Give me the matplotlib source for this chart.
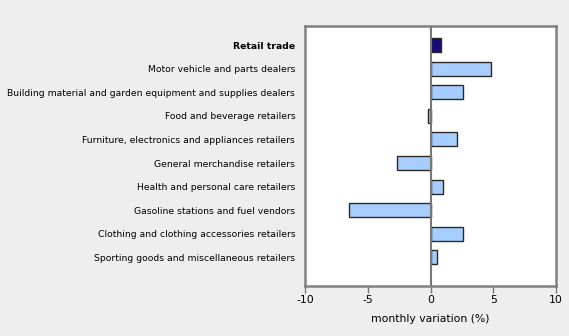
import matplotlib
matplotlib.use("Agg")
import matplotlib.pyplot as plt
import numpy as np

categories = [
    "Retail trade",
    "Motor vehicle and parts dealers",
    "Building material and garden equipment and supplies dealers",
    "Food and beverage retailers",
    "Furniture, electronics and appliances retailers",
    "General merchandise retailers",
    "Health and personal care retailers",
    "Gasoline stations and fuel vendors",
    "Clothing and clothing accessories retailers",
    "Sporting goods and miscellaneous retailers",
]
values = [0.8, 4.8, 2.6, -0.2, 2.1, -2.7, 1.0, -6.5, 2.6, 0.5]
xticks = [-10, -5, 0, 5, 10]
xlabel = "monthly variation (%)"

bg = "#EEEEEE"
fig = plt.figure(figsize=(5.69, 3.36), dpi=100, facecolor=bg)
ax = fig.add_axes([305/569, (336-285.7)/336, (556-305)/569, 260/336])
ax.set_facecolor("white")

y = np.arange(len(categories))
colors = ["#170B75"] + ["#A6CDFE"] * (len(categories) - 1)
ax.barh(y, values, height=0.6, color=colors, edgecolor="#2a2a2a", linewidth=1.0, zorder=3)

ax.axvline(0, color="#777777", linewidth=1.5, zorder=4)
ax.set_xlim(-10, 10)
ax.set_ylim(len(categories) - 1 + 1.2, -0.82)
ax.set_xticks(xticks)
ax.set_xticklabels([str(t) for t in xticks], fontsize=7.8)
ax.set_yticks(y)
ax.set_yticklabels(categories, fontsize=6.7)
for lbl in ax.get_yticklabels():
    if lbl.get_text() == "Retail trade":
        lbl.set_fontweight("bold")
ax.tick_params(axis="y", length=0, pad=7)
ax.tick_params(axis="x", length=5, width=1, color="#777777", pad=2, direction="out")
for s in ax.spines.values():
    s.set_color("#808080")
    s.set_linewidth(1.8)
ax.set_xlabel(xlabel, fontsize=7.8, labelpad=6)

fig.savefig("out.png", dpi=100, facecolor=bg)
